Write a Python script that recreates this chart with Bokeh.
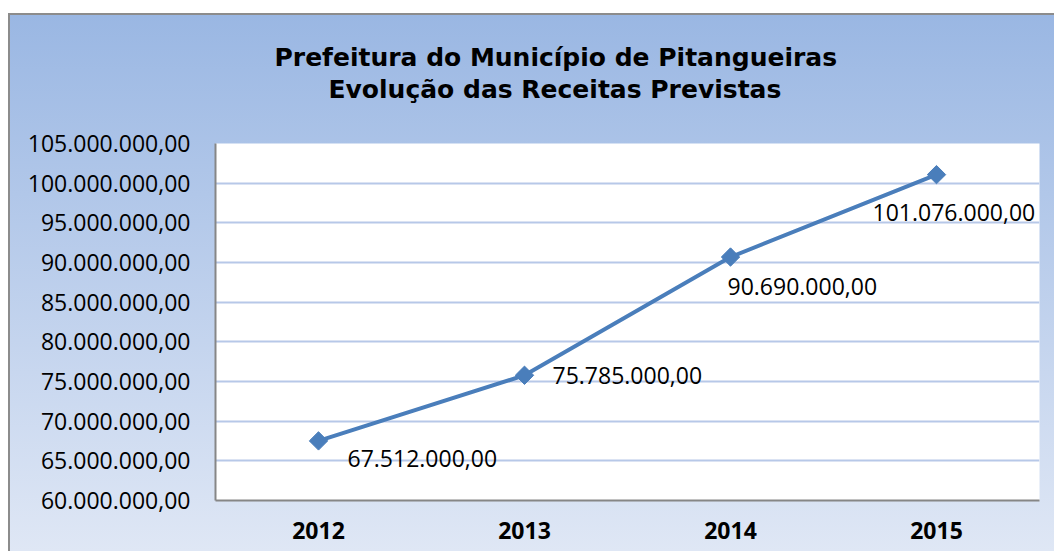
import math
from bokeh.plotting import figure
from bokeh.models import (FactorRange, Range1d, FixedTicker, CustomJSTickFormatter,
                          Title, ColumnDataSource)
from bokeh.core.properties import value
from bokeh.embed import file_html
from bokeh.resources import INLINE

# ---- data ----
years = ["2012", "2013", "2014", "2015"]
receitas = [67512000.00, 75785000.00, 90690000.00, 101076000.00]
y_ticks = [60000000, 65000000, 70000000, 75000000, 80000000,
           85000000, 90000000, 95000000, 100000000, 105000000]
title_lines = ["Prefeitura do Município de Pitangueiras",
               "Evolução das Receitas Previstas"]

# ---- styles / label placement (pixels) ----
label_dx = [29, 28, -3, -64]
label_dy = [18, 0, 29, 38]
title_offsets = [59, 113]
LINE_BLUE = "#4a7ebb"
FONT = "Open Sans"
TITLE_FONT = "DejaVu Sans"


def fmt_br(v):
    s = f"{v:,.2f}"
    return s.replace(",", "X").replace(".", ",").replace("X", ".")


src = ColumnDataSource(dict(
    year=years,
    val=receitas,
    txt=[fmt_br(v) for v in receitas],
    dx=label_dx,
    dy=label_dy,
))

p = figure(
    width=1054, height=551,
    x_range=FactorRange(*years),
    y_range=Range1d(y_ticks[0], y_ticks[-1]),
    output_backend="svg", toolbar_location=None,
    min_border_left=215, min_border_right=15,
    min_border_top=143, min_border_bottom=51,
)
p.title = None
p.border_fill_color = None
p.background_fill_color = "white"
p.outline_line_color = None
p.styles = {
    "background": (
        "linear-gradient(to right, #ffffff 0px, #ffffff 8px, transparent 8px), "
        "linear-gradient(to bottom, #ffffff 0px, #ffffff 13px, #8c8c8c 13px, #8c8c8c 15px, transparent 15px), "
        "linear-gradient(to right, transparent 8px, #8c8c8c 8px, #8c8c8c 10px, transparent 10px), "
        "linear-gradient(to bottom, #9ab7e3 15px, #dfe7f5 100%)"
    )
}

# axes
p.yaxis.ticker = FixedTicker(ticks=y_ticks)
p.yaxis.formatter = CustomJSTickFormatter(code="""
    const parts = tick.toFixed(2).split('.');
    return parts[0].replace(/\\B(?=(\\d{3})+(?!\\d))/g, '.') + ',' + parts[1];
""")
for ax in (p.xaxis, p.yaxis):
    ax.axis_line_color = "#868686"
    ax.axis_line_width = 2
    ax.major_tick_line_color = None
    ax.minor_tick_line_color = None
    ax.major_label_text_font = FONT
    ax.major_label_text_font_size = "23px"
    ax.major_label_text_color = "black"
p.xaxis.major_label_text_font_style = "bold"
p.yaxis.major_label_standoff = 19
p.xaxis.major_label_standoff = 15

p.xgrid.grid_line_color = None
p.ygrid.ticker = FixedTicker(ticks=y_ticks)
p.ygrid.grid_line_color = "#b7c8e8"
p.ygrid.grid_line_width = 2

# series
p.line(x="year", y="val", source=src, line_color=LINE_BLUE, line_width=4)
p.scatter(x="year", y="val", source=src, marker="square", size=13,
          angle=math.pi / 4, fill_color=LINE_BLUE, line_color=LINE_BLUE)
p.text(x="year", y="val", text="txt", source=src, x_offset="dx", y_offset="dy",
       text_font=value(FONT), text_font_size="23px", text_color="black",
       text_align="left", text_baseline="middle")

# two-line title: blank spacer panel nearest the frame, then line 2, then line 1
p.add_layout(Title(text=" ", standoff=10, text_font=TITLE_FONT,
                   text_font_size="24px"), "above")
for line, off, sd in [(title_lines[1], title_offsets[1], 0),
                      (title_lines[0], title_offsets[0], 2)]:
    p.add_layout(Title(text=line, align="left", offset=off, standoff=sd,
                       text_font=TITLE_FONT, text_font_size="25px",
                       text_font_style="bold", text_color="black"), "above")

open("out.html", "w").write(file_html(p, INLINE))
